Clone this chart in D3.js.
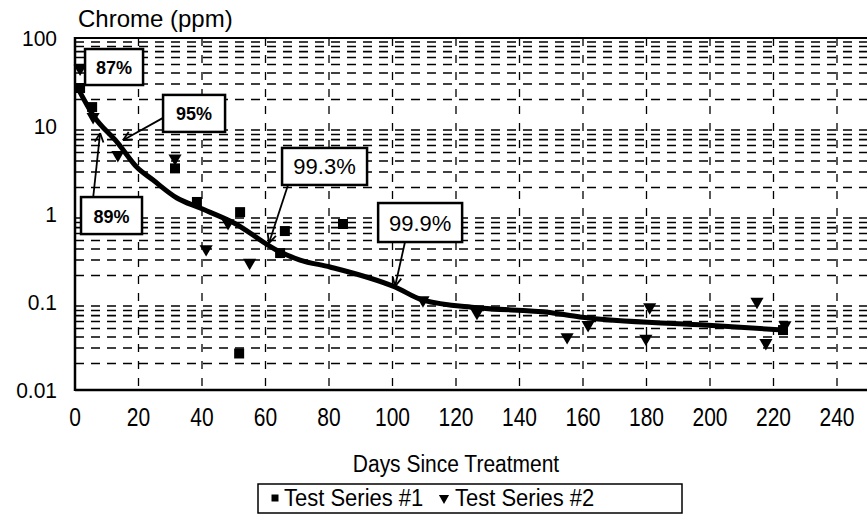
<!DOCTYPE html>
<html>
<head>
<meta charset="utf-8">
<script src="https://cdn.jsdelivr.net/npm/d3@7"></script>
<style>
body { margin: 0; background: #fff; }
svg { display: block; font-family: "Liberation Sans", Arial, sans-serif; }
</style>
</head>
<body>
<script>
// y axis (log) ticks
var yTicks = [100, 10, 1, 0.1, 0.01];
var yTickLabels = ["100", "10", "1", "0.1", "0.01"];
// x axis ticks
var xTicks = [0, 20, 40, 60, 80, 100, 120, 140, 160, 180, 200, 220, 240];

// Test Series #1 (squares)
var series1Days = [1.6, 5.4, 31.5, 38.4, 52, 64.6, 66.1, 84.4, 51.7, 223];
var series1Ppm  = [27, 16.4, 3.3, 1.37, 1.05, 0.36, 0.64, 0.77, 0.026, 0.048];

// Test Series #2 (triangles)
var series2Days = [1.6, 5.7, 13.5, 31.5, 41.3, 48.2, 55, 109.6, 126.6, 155, 161.6, 179.8, 181, 214.8, 217.6, 223.6];
var series2Ppm  = [45, 12.7, 4.7, 4.3, 0.40, 0.79, 0.28, 0.105, 0.0756, 0.040, 0.055, 0.0385, 0.0875, 0.101, 0.0344, 0.0546];

// fitted decay curve
var fitDays = [0.9, 5.7, 13.5, 19.5, 24.6, 32.1, 39.4, 49.8, 64.6, 70.9, 80.3, 100.8, 109.6, 126.6, 149.6, 159, 196.9, 223];
var fitPpm  = [27, 13.3, 6.4, 3.4, 2.43, 1.52, 1.17, 0.80, 0.37, 0.30, 0.25, 0.148, 0.105, 0.086, 0.076, 0.0675, 0.055, 0.048];

// reduction call-outs: box centre and arrow tip in data units
var noteLabels = ["87%", "95%", "89%", "99.3%", "99.9%"];
var noteDays   = [12.3, 37.5, 11.5, 78.6, 108.7];
var notePpm    = [46.8, 13.9, 0.96, 3.47, 0.80];
var tipDays    = [null, 15.1, 7.9, 61.1, 100.8];
var tipPpm     = [null, 6.9, 8.3, 0.468, 0.150];

function drawChart(){
    var width = 867, height = 516;
    var left = 75, top = 38, bottom = 390, right = 900;

    var svg = d3.select("body")
        .append("svg")
        .attr("width", width)
        .attr("height", height);

    svg.append("rect")
        .attr("width", width)
        .attr("height", height)
        .attr("fill", "#fff");

    var x = d3.scaleLinear()
        .domain([0, 260])
        .range([left, left + 260 * 3.175]);

    var y = d3.scaleLog()
        .domain([0.01, 100])
        .range([bottom, top]);

    // minor horizontal grid (2..9 in each decade)
    var minor = [];
    [0.01, 0.1, 1, 10].forEach(function(dec){
        for (var k = 2; k <= 9; k++) minor.push(dec * k);
    });
    svg.selectAll(".hgrid")
        .data(minor)
        .enter()
        .append("line")
        .attr("class", "hgrid")
        .attr("x1", left)
        .attr("x2", right)
        .attr("y1", function(d){ return y(d); })
        .attr("y2", function(d){ return y(d); })
        .attr("stroke", "#000")
        .attr("stroke-width", 1.6)
        .attr("stroke-dasharray", "9,7");

    // vertical grid every 20 days
    svg.selectAll(".vgrid")
        .data(xTicks.slice(1).concat([260]))
        .enter()
        .append("line")
        .attr("class", "vgrid")
        .attr("x1", function(d){ return x(d); })
        .attr("x2", function(d){ return x(d); })
        .attr("y1", top)
        .attr("y2", bottom)
        .attr("stroke", "#000")
        .attr("stroke-width", 1.3)
        .attr("stroke-dasharray", "8,9");

    // frame
    svg.append("line").attr("x1", left).attr("x2", right).attr("y1", top).attr("y2", top)
        .attr("stroke", "#000").attr("stroke-width", 2);
    svg.append("line").attr("x1", left).attr("x2", left).attr("y1", top - 1).attr("y2", bottom + 1)
        .attr("stroke", "#000").attr("stroke-width", 2.5);
    svg.append("line").attr("x1", left).attr("x2", right).attr("y1", bottom).attr("y2", bottom)
        .attr("stroke", "#000").attr("stroke-width", 2.5);

    // y tick labels
    svg.selectAll(".ylab")
        .data(yTicks)
        .enter()
        .append("text")
        .attr("class", "ylab")
        .attr("transform", function(d){ return "translate(57," + (y(d) + 8) + ") scale(1,1.06)"; })
        .attr("text-anchor", "end")
        .attr("font-size", 21)
        .text(function(d, i){ return yTickLabels[i]; });

    // x tick labels
    svg.selectAll(".xlab")
        .data(xTicks)
        .enter()
        .append("text")
        .attr("class", "xlab")
        .attr("transform", function(d){ return "translate(" + x(d) + ",426) scale(1,1.2)"; })
        .attr("text-anchor", "middle")
        .attr("font-size", 21)
        .text(function(d){ return d; });

    svg.append("text")
        .attr("x", 78)
        .attr("y", 27)
        .attr("font-size", 24)
        .text("Chrome (ppm)");

    svg.append("text")
        .attr("transform", "translate(456,472) scale(1,1.15)")
        .attr("text-anchor", "middle")
        .attr("font-size", 21)
        .text("Days Since Treatment");

    // fitted curve
    var fit = fitDays.map(function(d, i){ return [d, fitPpm[i]]; });
    var line = d3.line()
        .x(function(d){ return x(d[0]); })
        .y(function(d){ return y(d[1]); })
        .curve(d3.curveMonotoneX);
    svg.append("path")
        .datum(fit)
        .attr("d", line)
        .attr("fill", "none")
        .attr("stroke", "#000")
        .attr("stroke-width", 5)
        .attr("stroke-linejoin", "round");

    // markers
    var sq = d3.symbol().type(d3.symbolSquare).size(100);
    var tri = d3.symbol().type(d3.symbolTriangle).size(75);

    svg.selectAll(".s1")
        .data(series1Days)
        .enter()
        .append("path")
        .attr("class", "s1")
        .attr("d", sq)
        .attr("transform", function(d, i){
            return "translate(" + x(d) + "," + y(series1Ppm[i]) + ")";
        })
        .attr("fill", "#000");

    svg.selectAll(".s2")
        .data(series2Days)
        .enter()
        .append("path")
        .attr("class", "s2")
        .attr("d", tri)
        .attr("transform", function(d, i){
            return "translate(" + x(d) + "," + y(series2Ppm[i]) + ") rotate(180)";
        })
        .attr("fill", "#000");

    // call-out boxes and arrows
    var boxW = [58, 62, 61, 85, 84];
    var boxH = [36, 37, 37, 37, 39];
    var startFx = [0, -0.5, -0.3, -0.43, -0.18];
    var startFy = [0, 0.12, -0.5, 0.5, 0.5];
    noteLabels.forEach(function(lab, i){
        var cx = x(noteDays[i]), cy = y(notePpm[i]);
        var bold = lab.length < 4;
        if (tipDays[i] !== null) {
            var sx = cx + startFx[i] * boxW[i], sy = cy + startFy[i] * boxH[i];
            var tx = x(tipDays[i]), ty = y(tipPpm[i]);
            var ang = Math.atan2(ty - sy, tx - sx);
            svg.append("line")
                .attr("x1", sx).attr("y1", sy).attr("x2", tx).attr("y2", ty)
                .attr("stroke", "#000").attr("stroke-width", 1.8);
            [-0.45, 0.45].forEach(function(a){
                svg.append("line")
                    .attr("x1", tx).attr("y1", ty)
                    .attr("x2", tx - 10 * Math.cos(ang + a))
                    .attr("y2", ty - 10 * Math.sin(ang + a))
                    .attr("stroke", "#000").attr("stroke-width", 1.8);
            });
        }
        svg.append("rect")
            .attr("x", cx - boxW[i] / 2)
            .attr("y", cy - boxH[i] / 2)
            .attr("width", boxW[i])
            .attr("height", boxH[i])
            .attr("fill", "#fff")
            .attr("stroke", "#000")
            .attr("stroke-width", 2.5);
        svg.append("text")
            .attr("x", cx)
            .attr("y", cy + (bold ? 7 : 8))
            .attr("text-anchor", "middle")
            .attr("font-size", bold ? 18 : 22)
            .attr("font-weight", bold ? "bold" : "normal")
            .text(lab);
    });

    // legend
    svg.append("rect")
        .attr("x", 258).attr("y", 484)
        .attr("width", 424).attr("height", 29)
        .attr("fill", "#fff")
        .attr("stroke", "#000")
        .attr("stroke-width", 1.5);
    var leg = svg.append("g").attr("font-size", 22);
    leg.append("path")
        .attr("d", d3.symbol().type(d3.symbolSquare).size(49))
        .attr("transform", "translate(275,498)");
    leg.append("text").attr("transform", "translate(284,506) scale(1,1.12)").text("Test Series #1");
    leg.append("path")
        .attr("d", d3.symbol().type(d3.symbolTriangle).size(45))
        .attr("transform", "translate(444,498) rotate(180)");
    leg.append("text").attr("transform", "translate(455,506) scale(1,1.12)").text("Test Series #2");
}

window.onload = drawChart;
</script>
</body>
</html>
